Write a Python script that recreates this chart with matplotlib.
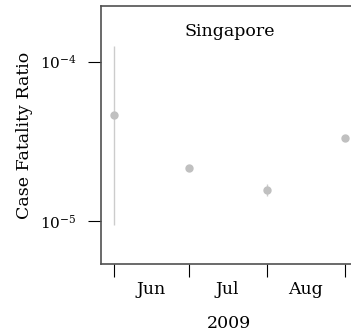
import datetime as dt
import matplotlib
matplotlib.use("Agg")
import matplotlib.pyplot as plt
import matplotlib.dates as mdates
from matplotlib.ticker import FixedLocator, NullLocator

plt.rcParams['font.family'] = ['DejaVu Serif']
plt.rcParams['mathtext.fontset'] = 'stix'

# data
dates = [dt.date(2009, 6, 1), dt.date(2009, 7, 1), dt.date(2009, 8, 1), dt.date(2009, 9, 1)]
cfr = [4.6e-5, 2.16e-5, 1.56e-5, 3.3e-5]
cfr_low = [9.5e-6, 2.16e-5, 1.44e-5, 3.3e-5]
cfr_high = [1.26e-4, 2.16e-5, 1.71e-5, 3.3e-5]
month_edges = [dt.date(2009, 6, 1), dt.date(2009, 7, 1), dt.date(2009, 8, 1), dt.date(2009, 9, 1)]
month_mids = [dt.date(2009, 6, 16), dt.date(2009, 7, 16), dt.date(2009, 8, 16)]
month_labels = ["Jun", "Jul", "Aug"]

fig = plt.figure(figsize=(3.51, 3.36), dpi=100)
ax = fig.add_axes([101 / 351, 1 - 264 / 336, (358 - 101) / 351, (264 - 6) / 336])

x = mdates.date2num(dates)
lo = [c - l for c, l in zip(cfr, cfr_low)]
hi = [h - c for c, h in zip(cfr, cfr_high)]
ax.errorbar(x, cfr, yerr=[lo, hi], fmt='o', color='#c0c0c0', ecolor='#cccccc',
            elinewidth=1, markersize=5, capsize=0, zorder=3)

ax.set_yscale('log')
ax.set_ylim(5.4e-6, 2.23e-4)
ax.yaxis.set_major_locator(FixedLocator([1e-5, 1e-4]))
ax.yaxis.set_minor_locator(NullLocator())
ax.set_xlim(mdates.date2num(dt.date(2009, 5, 27)), mdates.date2num(dt.date(2009, 9, 6)))

ax.set_xticks(mdates.date2num(month_edges))
ax.set_xticklabels([])
ax.set_xticks(mdates.date2num(month_mids), minor=True)
ax.set_xticklabels(month_labels, minor=True)
ax.tick_params(axis='x', which='major', length=9, width=0.8, color='black', direction='out')
ax.tick_params(axis='x', which='minor', length=0, pad=12, labelsize=12.5)
ax.tick_params(axis='y', length=9.5, width=0.8, color='black', direction='out', pad=8, labelsize=11)

for s in ax.spines.values():
    s.set_color('#505050')
    s.set_linewidth(1.2)
ax.spines['right'].set_visible(False)

ax.text(0.5, 0.9, "Singapore", transform=ax.transAxes, ha='center', va='center', fontsize=12.5)
ax.set_ylabel("Case Fatality Ratio", fontsize=12.5)
ax.yaxis.set_label_coords(-0.265, 0.5)
fig.text(229 / 351, 1 - 324 / 336, "2009", ha='center', va='center', fontsize=12.5)

fig.savefig("out.png", dpi=100)
